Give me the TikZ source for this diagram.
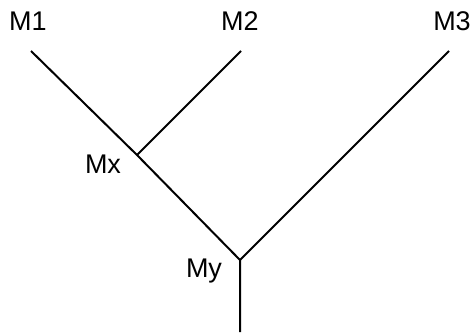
\documentclass[tikz,border=0pt]{standalone}
\usepackage{fontspec}
\setmainfont{Liberation Sans}
\begin{document}
\begin{tikzpicture}[x=1pt,y=-1pt,
  lbl/.style={font=\fontsize{27}{30}\selectfont, inner sep=0pt, anchor=base},
  branch/.style={line width=2pt, black}]
\useasboundingbox (0,0) rectangle (471,332);
\node[lbl] (m1) at (28,30) {M1};
\node[lbl] (m2) at (240,30) {M2};
\node[lbl] (m3) at (452,30) {M3};
\node[lbl] (lx) at (103,173) {Mx};
\node[lbl] (ly) at (204,277) {My};
\coordinate (t1) at (31,51);
\coordinate (t2) at (241,51);
\coordinate (t3) at (449,51);
\coordinate (mx) at (137,155);
\coordinate (my) at (240,260);
\coordinate (root) at (240,332);
\draw[branch] (t1) -- (mx) -- (my) -- (root);
\draw[branch] (t2) -- (mx);
\draw[branch] (t3) -- (my);
\end{tikzpicture}
\end{document}
